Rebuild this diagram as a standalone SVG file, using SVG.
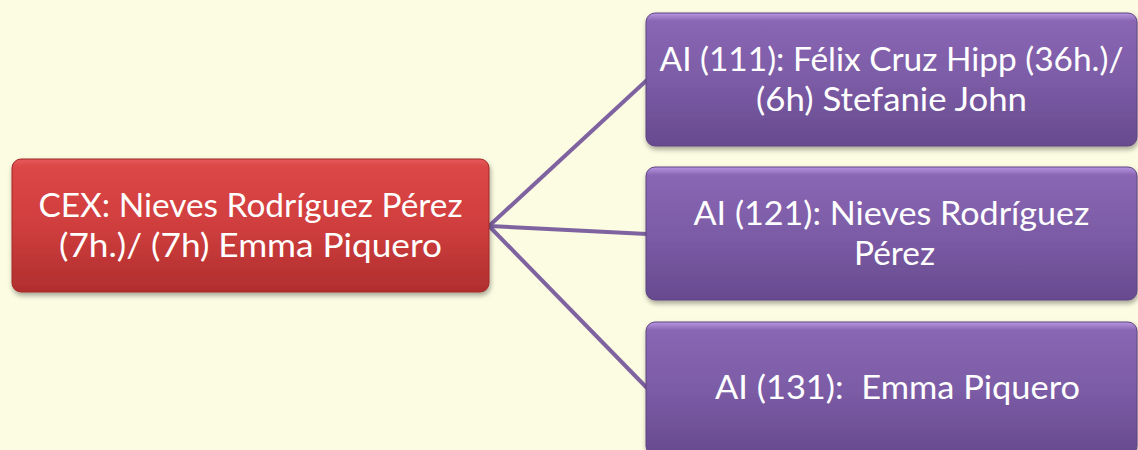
<svg xmlns="http://www.w3.org/2000/svg" width="1138" height="450" viewBox="0 0 1138 450">
<defs>
<linearGradient id="gRed" x1="0" y1="0" x2="0" y2="1">
<stop offset="0" stop-color="#e65a5a"/>
<stop offset="0.06" stop-color="#dc4646"/>
<stop offset="0.5" stop-color="#d03e3e"/>
<stop offset="1" stop-color="#b02e2e"/>
</linearGradient>
<linearGradient id="gPur" x1="0" y1="0" x2="0" y2="1">
<stop offset="0" stop-color="#b896e0"/>
<stop offset="0.06" stop-color="#8a66b4"/>
<stop offset="0.5" stop-color="#7c5ca6"/>
<stop offset="1" stop-color="#664a8e"/>
</linearGradient>
<filter id="sh" x="-10%" y="-10%" width="120%" height="130%">
<feDropShadow dx="1" dy="3" stdDeviation="2.5" flood-color="#000" flood-opacity="0.35"/>
</filter>
<style>
.red{fill:url(#gRed);stroke:#a02828;stroke-width:1;filter:url(#sh)}
.pur{fill:url(#gPur);stroke:#5e4482;stroke-width:1;filter:url(#sh)}
.t{font-family:Lato,"Open Sans","Liberation Sans",sans-serif;font-size:32.5px;fill:#ffffff;text-anchor:middle;white-space:pre}
.c{stroke:#7f63a1;stroke-width:4;fill:none}
</style>
</defs>
<rect width="1138" height="450" fill="#fcfce2"/>
<g id="connectors">
<line class="c" x1="489" y1="226" x2="647" y2="80"/>
<line class="c" x1="489" y1="226" x2="647" y2="234"/>
<line class="c" x1="489" y1="226" x2="647" y2="388"/>
</g>
<g id="node-cex">
<rect class="red" x="12" y="159" width="477" height="133" rx="9"/>
<text class="t" x="250.5" y="217" textLength="424" lengthAdjust="spacingAndGlyphs">CEX: Nieves Rodríguez Pérez</text>
<text class="t" x="250.5" y="257" textLength="383" lengthAdjust="spacingAndGlyphs">(7h.)/ (7h) Emma Piquero</text>
</g>
<g id="node-ai111">
<rect class="pur" x="646" y="13" width="491" height="133" rx="9"/>
<text class="t" x="891.5" y="71" textLength="464" lengthAdjust="spacingAndGlyphs">AI (111): Félix Cruz Hipp (36h.)/</text>
<text class="t" x="891.5" y="111" textLength="271" lengthAdjust="spacingAndGlyphs">(6h) Stefanie John</text>
</g>
<g id="node-ai121">
<rect class="pur" x="646" y="167" width="491" height="133" rx="9"/>
<text class="t" x="891.5" y="225" textLength="396" lengthAdjust="spacingAndGlyphs">AI (121): Nieves Rodríguez</text>
<text class="t" x="894.5" y="265" textLength="81" lengthAdjust="spacingAndGlyphs">Pérez</text>
</g>
<g id="node-ai131">
<rect class="pur" x="646" y="322" width="491" height="133" rx="9"/>
<text class="t" x="897.5" y="399" textLength="365" lengthAdjust="spacingAndGlyphs">AI (131):  Emma Piquero</text>
</g>
</svg>
